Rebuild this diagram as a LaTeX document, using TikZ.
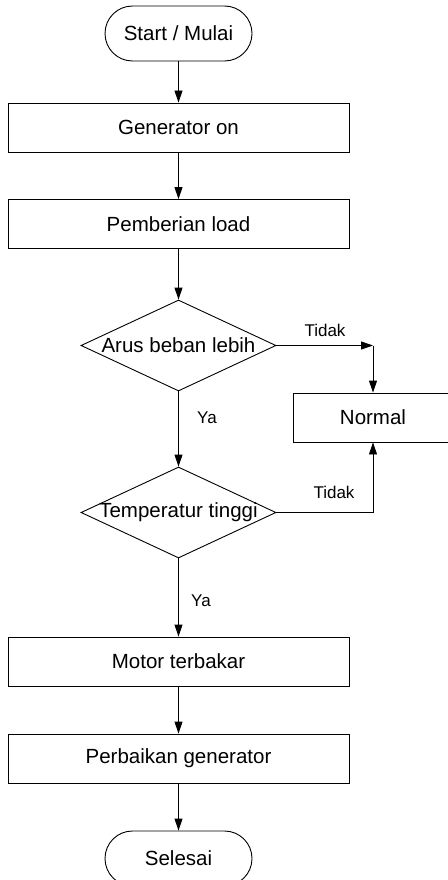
\documentclass[tikz,border=0pt]{standalone}
\usepackage{fontspec}
\setmainfont{Liberation Sans}
\usetikzlibrary{arrows.meta,shapes.geometric}

\tikzset{
  terminal/.style={draw, rounded corners=27.5pt, minimum width=147pt, minimum height=55pt, inner sep=0pt, font=\fontsize{20.5}{24}\selectfont},
  process/.style={draw, minimum width=341pt, minimum height=49pt, inner sep=0pt, font=\fontsize{20.5}{24}\selectfont},
  decision/.style={draw, diamond, minimum width=195pt, minimum height=91pt, inner sep=0pt, font=\fontsize{20.5}{24}\selectfont},
  answer/.style={font=\fontsize{17}{20}\selectfont},
  flow/.style={-{Triangle[length=12pt,width=8pt]}}
}

\begin{document}
\begin{tikzpicture}[x=1pt, y=-1pt, line width=0.9pt]
\useasboundingbox (0,0) rectangle (447,880);

% main column
\node[terminal] (mulai) at (178.5,33.5) {Start / Mulai};
\node[process] (genon) at (178.5,127.5) {Generator on};
\node[process] (load) at (178.5,224) {Pemberian load};
\node[decision] (arus) at (178.5,345.5) {\makebox[0pt]{Arus beban lebih}};
\node[decision] (suhu) at (178.5,512.5) {\makebox[0pt]{Temperatur tinggi}};
\node[process] (motor) at (178.5,661.5) {Motor terbakar};
\node[process] (perbaikan) at (178.5,758.5) {Perbaikan generator};
\node[terminal] (selesai) at (178.5,858.5) {Selesai};

% side branch
\node[draw, minimum width=160pt, minimum height=49pt, font=\fontsize{20.5}{24}\selectfont] (normal) at (373,417.5) {Normal};
\coordinate (belok) at (373,345.5);

\draw[flow] (mulai) -- (genon);
\draw[flow] (genon) -- (load);
\draw[flow] (load) -- (arus);
\draw[flow] (arus) -- (suhu);
\draw[flow] (suhu) -- (motor);
\draw[flow] (motor) -- (perbaikan);
\draw[flow] (perbaikan) -- (selesai);

\draw[flow] (arus.east) -- (belok);
\draw[flow] (belok) -- (normal.north);
\draw[flow] (suhu.east) -| (normal.south);

\node[answer] (tidaka) at (325,330) {Tidak};
\node[answer] (tidakb) at (334,492) {Tidak};
\node[answer] (yaa) at (207,418) {Ya};
\node[answer] (yab) at (201,601) {Ya};
\end{tikzpicture}
\end{document}
